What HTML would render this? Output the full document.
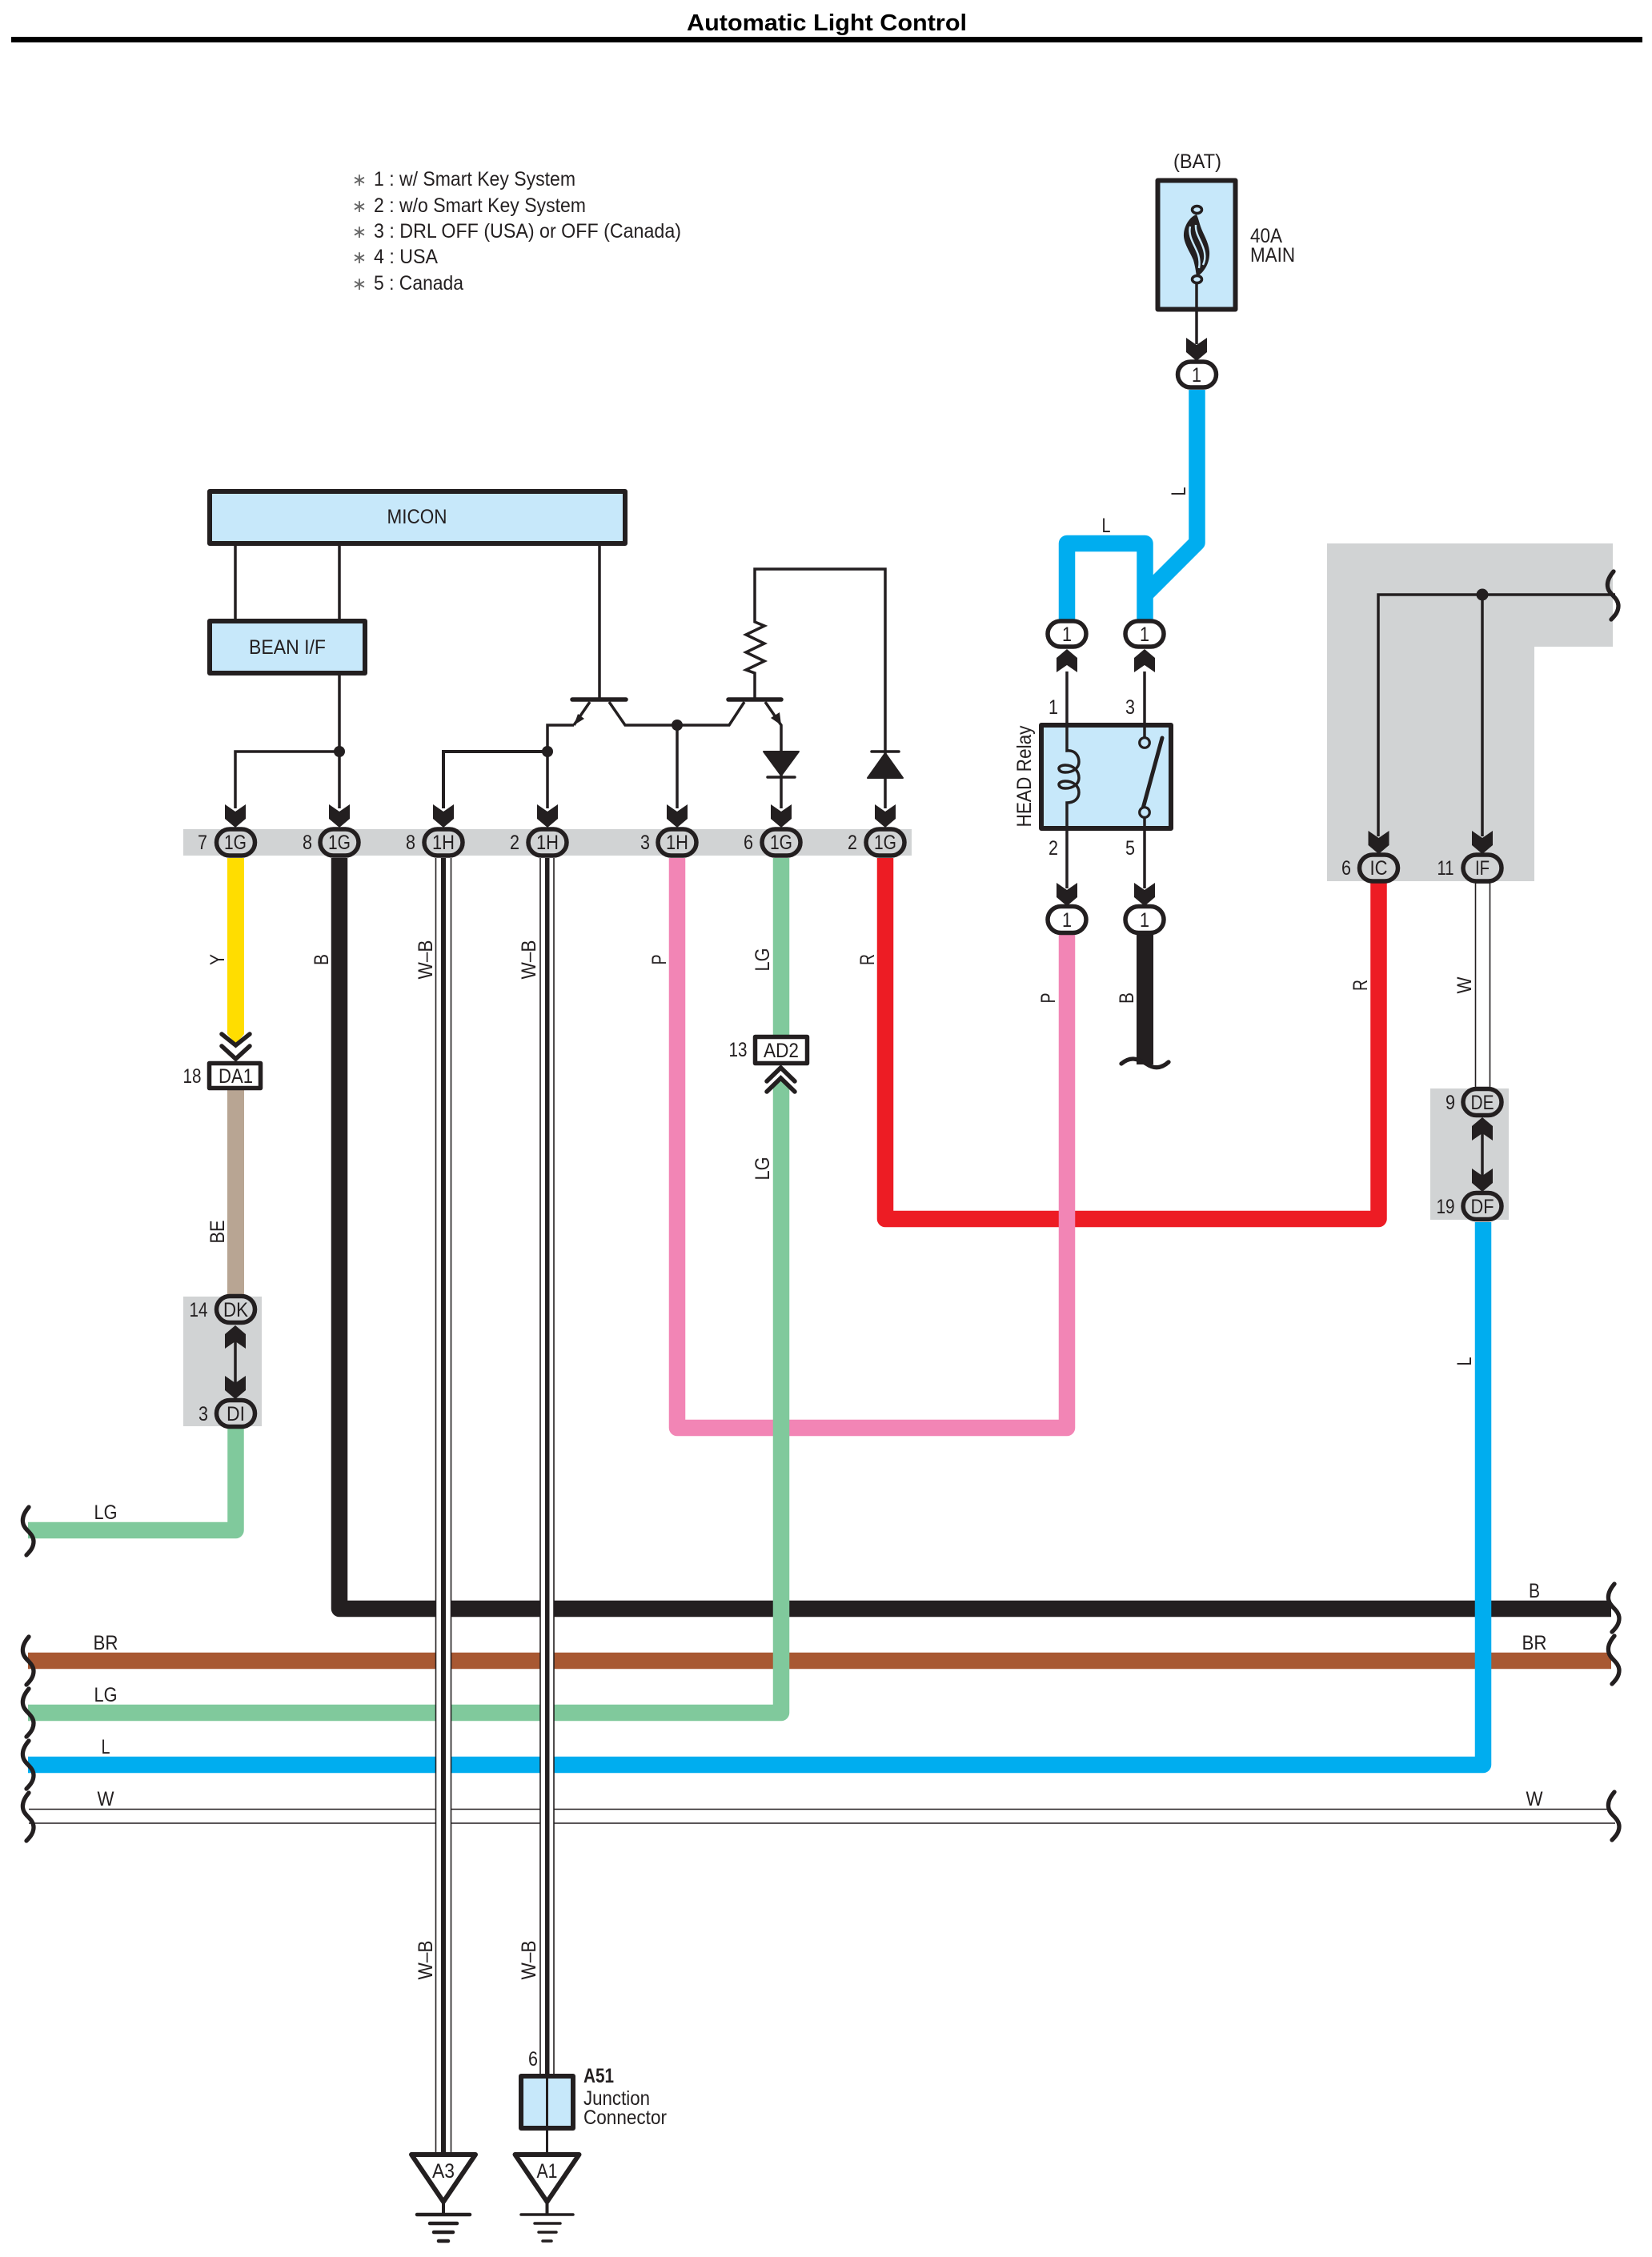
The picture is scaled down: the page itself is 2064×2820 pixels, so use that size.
<!DOCTYPE html>
<html><head><meta charset="utf-8"><title>Automatic Light Control</title>
<style>
html,body{margin:0;padding:0;background:#fff}
svg{display:block}
text{font-family:"Liberation Sans",Arial,sans-serif;font-size:25px;fill:#231f20;text-anchor:middle}
.c{font-size:25px}
.s{text-anchor:start}
.ln{fill:none;stroke:#231f20;stroke-width:3.5}
.w{fill:none;stroke-width:20.5;stroke-linejoin:round}
.box{fill:#c7e8fa;stroke:#231f20;stroke-width:6;stroke-linejoin:round}
.pg{fill:#d1d3d4;stroke:#231f20;stroke-width:5.5}
.pw{fill:#fff;stroke:#231f20;stroke-width:5.5}
.sq{fill:none;stroke:#231f20;stroke-width:5.3;stroke-linecap:round}
.hb{stroke:#231f20;stroke-linecap:round;fill:none}
</style></head><body>
<svg xmlns="http://www.w3.org/2000/svg" width="2064" height="2820" viewBox="0 0 2064 2820">
<defs>
<polygon id="ad" points="-13,-29 0,-20 13,-29 13,-11 0,0 -13,-11" fill="#231f20"/>
<polygon id="au" points="-13,29 0,20 13,29 13,11 0,0 -13,11" fill="#231f20"/>
<path id="sq" class="sq" d="M0 0 C-6 7 -9 14 -7 21 C-5 29 6 33 6 43 C6 50 2 55 -3 60"/>
</defs>
<rect width="2064" height="2820" fill="#fff"/>

<!-- title -->
<text x="858" y="38" class="s" style="font-size:29px;font-weight:bold;fill:#000" textLength="350" lengthAdjust="spacingAndGlyphs">Automatic Light Control</text>
<rect x="14" y="46" width="2038" height="7" fill="#000"/>

<!-- legend -->
<g>
<text x="449" y="232" style="font-size:22px;fill:#666">∗</text>
<text x="449" y="265" style="font-size:22px;fill:#666">∗</text>
<text x="449" y="297" style="font-size:22px;fill:#666">∗</text>
<text x="449" y="329" style="font-size:22px;fill:#666">∗</text>
<text x="449" y="362" style="font-size:22px;fill:#666">∗</text>
<text x="467" y="232" class="s" style="font-size:25px" textLength="252" lengthAdjust="spacingAndGlyphs">1 : w/ Smart Key System</text>
<text x="467" y="265" class="s" style="font-size:25px" textLength="265" lengthAdjust="spacingAndGlyphs">2 : w/o Smart Key System</text>
<text x="467" y="297" class="s" style="font-size:25px" textLength="384" lengthAdjust="spacingAndGlyphs">3 : DRL OFF (USA) or OFF (Canada)</text>
<text x="467" y="329" class="s" style="font-size:25px" textLength="80" lengthAdjust="spacingAndGlyphs">4 : USA</text>
<text x="467" y="362" class="s" style="font-size:25px" textLength="112" lengthAdjust="spacingAndGlyphs">5 : Canada</text>
</g>

<!-- gray backgrounds -->
<g fill="#d1d3d4">
<rect x="229" y="1036" width="910" height="33"/>
<rect x="229" y="1620" width="98" height="162"/>
<rect x="1787" y="1360" width="98" height="164"/>
<polygon points="1658,679 2015,679 2015,808 1917,808 1917,1101 1658,1101"/>
</g>

<!-- thick wires -->
<path class="w" stroke="#ed1c24" d="M1106 1072V1523H1722.5V1103"/>
<path class="w" stroke="#f285b5" d="M846 1072V1784H1333V1168"/>
<path class="w" stroke="#231f20" d="M424 1072V2010H2013"/>
<path class="w" stroke="#a85832" d="M35 2075H2013"/>
<path class="w" stroke="#80c99c" d="M976 1072V2140H35"/>
<polygon points="965,1331 987,1331 987,1358 975.5,1347 965,1358" fill="#fff"/>
<path class="w" stroke="#80c99c" d="M294.5 1785V1912H35"/>
<path class="w" stroke="#00adef" d="M1853 1527V2205H35"/>
<path class="w" stroke="#00adef" d="M1495.5 487V678L1430.5 743"/>
<path class="w" stroke="#00adef" d="M1333 774V679H1430.5V774"/>
<path stroke="#231f20" stroke-width="21" fill="none" d="M1430.5 1168V1330"/>
<polygon points="284,1072 305,1072 305,1292 294.5,1305 284,1292" fill="#ffdd00"/>
<rect x="284" y="1362" width="21" height="260" fill="#b8a593"/>

<!-- W wires -->
<g stroke="#231f20" stroke-width="1.6" fill="none">
<path d="M36 2260.5H2012M36 2278H2018"/>
<rect x="1843.5" y="1103" width="18" height="256" fill="#fff"/>
</g>

<!-- W-B wires -->
<rect x="544" y="1072" width="20" height="1620" fill="#fff"/>
<rect x="674.5" y="1072" width="18" height="1520" fill="#fff"/>
<g stroke="#231f20" stroke-width="1.6" fill="none">
<path d="M544.5 1072V2692M563.5 1072V2692M675 1072V2592M692 1072V2592"/>
</g>
<rect x="551" y="1072" width="6" height="1620" fill="#231f20"/>
<rect x="681" y="1072" width="5.5" height="1520" fill="#231f20"/>

<!-- thin circuit lines -->
<g class="ln">
<path d="M294 682V773M424 682V773M424 844V1010M294 1010V939H424"/>
<path d="M554 1010V939H684" stroke-width="4"/>
<path d="M684 1010V906H717"/>
<path d="M749 682V874"/>
<path d="M737 877L717 906M761 877L781 906H911L930 877M846 906V1010"/>
<path d="M956 877L976 906V1010"/>
<path d="M943 874V841L932 837L955 826L932 815L955 804L932 793L955 782L943 777V711H1106V1010"/>
<path d="M1333 839V903M1333 1038V1110"/>
<path d="M1430 839V903M1430 1038V1110"/>
<path d="M1495 349V430"/>
<path d="M1722 1045V743H2018M1852 743V1045"/>
<path d="M294 1665V1730M1852 1405V1470"/>
<path d="M554 2692V2767M683.5 2692V2767"/>
</g>

<!-- dots -->
<g fill="#231f20">
<circle cx="424" cy="939" r="7"/><circle cx="684" cy="939" r="7"/><circle cx="846" cy="906" r="7"/><circle cx="1852" cy="743" r="7.5"/>
</g>

<!-- transistors -->
<g class="hb" stroke-width="5.5"><path d="M715 874H782M910 874H976"/></g>
<polygon points="717,906 722,892 730,898" fill="#231f20"/>
<polygon points="976,906 963,897 974,890" fill="#231f20"/>

<!-- diodes -->
<g fill="#231f20" stroke="#231f20" stroke-linejoin="round" stroke-width="2">
<polygon points="954,939 998,939 976,969"/>
<polygon points="1084,972 1128,972 1106,941"/>
</g>
<g class="hb" stroke-width="3.5"><path d="M959 971H993M1089 939H1123"/></g>

<!-- boxes -->
<rect class="box" x="262" y="614" width="519" height="65"/>
<rect class="box" x="262" y="776" width="194" height="65"/>
<text x="521" y="654" textLength="75" lengthAdjust="spacingAndGlyphs">MICON</text>
<text x="359" y="817" textLength="96" lengthAdjust="spacingAndGlyphs">BEAN I/F</text>

<!-- fuse -->
<rect class="box" x="1446.5" y="225.5" width="97" height="161"/>
<path d="M1495 268C1488 270 1480 280 1479 292C1478 303 1487 315 1491 325C1493 332 1494 338 1495 346C1505 340 1512 328 1511 314C1510 302 1503 292 1500 283C1498 277 1497 272 1495 268Z" fill="#231f20"/>
<path d="M1487 283C1484 296 1493 306 1497 318C1499 325 1499 330 1498 335M1494 281C1493 293 1503 303 1505 316C1506 322 1505 327 1503 331" fill="none" stroke="#c7e8fa" stroke-width="2.4"/>
<path d="M1495 349V388" stroke="#231f20" stroke-width="3.5"/>
<ellipse cx="1495.5" cy="262" rx="6" ry="4.5" fill="#c7e8fa" stroke="#231f20" stroke-width="3.5"/>
<ellipse cx="1495.5" cy="349" rx="6" ry="4.5" fill="#c7e8fa" stroke="#231f20" stroke-width="3.5"/>
<text x="1496" y="210" textLength="60" lengthAdjust="spacingAndGlyphs">(BAT)</text>
<text x="1562" y="303" class="s" textLength="40" lengthAdjust="spacingAndGlyphs">40A</text>
<text x="1562" y="327" class="s" textLength="56" lengthAdjust="spacingAndGlyphs">MAIN</text>

<!-- relay -->
<rect class="box" x="1301" y="906" width="162" height="129"/>
<g class="ln" stroke-width="3.5">
<path d="M1333 903V938C1343 937 1348 944 1348 952C1348 960 1340 965 1331 965C1326 965 1323 963 1323 960C1323 958 1326 956 1331 956C1341 956 1348 963 1348 972C1348 980 1340 985 1331 985C1326 985 1323 983 1323 980C1323 978 1326 976 1331 976C1341 976 1348 982 1348 990C1348 998 1342 1003 1333 1003V1038"/>
<path d="M1430 903V922M1430 1021V1038"/>
</g>
<path d="M1452 922L1428 1010" stroke="#231f20" stroke-width="5" stroke-linecap="round"/>
<circle cx="1430" cy="928" r="6.3" fill="#c7e8fa" stroke="#231f20" stroke-width="3.2"/>
<circle cx="1430" cy="1015" r="6.3" fill="#c7e8fa" stroke="#231f20" stroke-width="3.2"/>
<text transform="translate(1288,970) rotate(-90)" textLength="127" lengthAdjust="spacingAndGlyphs">HEAD Relay</text>
<path class="sq" d="M1401 1329C1412 1320 1420 1322 1432 1329C1442 1336 1451 1335 1460 1327"/>

<!-- arrows -->
<use href="#ad" x="294" y="1034"/><use href="#ad" x="424" y="1034"/><use href="#ad" x="554" y="1034"/><use href="#ad" x="684" y="1034"/>
<use href="#ad" x="846" y="1034"/><use href="#ad" x="976" y="1034"/><use href="#ad" x="1106" y="1034"/>
<use href="#ad" x="1495" y="451"/>
<use href="#au" x="1333" y="811"/><use href="#au" x="1430" y="811"/>
<use href="#ad" x="1333" y="1132"/><use href="#ad" x="1430" y="1132"/>
<use href="#ad" x="1722.5" y="1067"/><use href="#ad" x="1852" y="1067"/>
<use href="#au" x="294" y="1656"/><use href="#ad" x="294" y="1748"/>
<use href="#au" x="1852" y="1396"/><use href="#ad" x="1852" y="1489"/>

<!-- chevrons -->
<g fill="none" stroke="#231f20" stroke-width="5.5" stroke-linecap="round">
<polyline points="277,1292 294.5,1306 312,1292"/>
<polyline points="277,1307 294.5,1323 312,1307"/>
<polyline points="958,1351 975.5,1334 993,1351"/>
<polyline points="958,1364 975.5,1347 993,1364"/>
</g>

<!-- pill connectors -->
<rect class="pg" x="270.5" y="1036" width="48" height="33" rx="16.5"/>
<rect class="pg" x="400" y="1036" width="48" height="33" rx="16.5"/>
<rect class="pg" x="530" y="1036" width="48" height="33" rx="16.5"/>
<rect class="pg" x="660" y="1036" width="48" height="33" rx="16.5"/>
<rect class="pg" x="822" y="1036" width="48" height="33" rx="16.5"/>
<rect class="pg" x="952" y="1036" width="48" height="33" rx="16.5"/>
<rect class="pg" x="1082" y="1036" width="48" height="33" rx="16.5"/>
<rect class="pg" x="270.5" y="1619.5" width="48" height="33" rx="16.5"/>
<rect class="pg" x="270.5" y="1749.5" width="48" height="33" rx="16.5"/>
<rect class="pg" x="1828" y="1360.5" width="48" height="33" rx="16.5"/>
<rect class="pg" x="1828" y="1490.5" width="48" height="33" rx="16.5"/>
<rect class="pg" x="1698.5" y="1068" width="48" height="33" rx="16.5"/>
<rect class="pg" x="1828" y="1068" width="48" height="33" rx="16.5"/>
<rect class="pw" x="1471.5" y="452" width="48" height="32" rx="16"/>
<rect class="pw" x="1309" y="776" width="48" height="32" rx="16"/>
<rect class="pw" x="1406" y="776" width="48" height="32" rx="16"/>
<rect class="pw" x="1309" y="1132.5" width="48" height="33" rx="16.5"/>
<rect class="pw" x="1406" y="1132.5" width="48" height="33" rx="16.5"/>

<!-- rect connectors -->
<rect x="261.5" y="1328.5" width="64" height="31" fill="#fff" stroke="#231f20" stroke-width="5.5" stroke-linejoin="round"/>
<rect x="943.5" y="1295.5" width="65" height="33" fill="#fff" stroke="#231f20" stroke-width="5.5" stroke-linejoin="round"/>

<!-- connector labels -->
<g>
<text class="c" x="294" y="1061" textLength="28" lengthAdjust="spacingAndGlyphs">1G</text>
<text class="c" x="424" y="1061" textLength="28" lengthAdjust="spacingAndGlyphs">1G</text>
<text class="c" x="554" y="1061" textLength="28" lengthAdjust="spacingAndGlyphs">1H</text>
<text class="c" x="684" y="1061" textLength="28" lengthAdjust="spacingAndGlyphs">1H</text>
<text class="c" x="846" y="1061" textLength="28" lengthAdjust="spacingAndGlyphs">1H</text>
<text class="c" x="976" y="1061" textLength="28" lengthAdjust="spacingAndGlyphs">1G</text>
<text class="c" x="1106" y="1061" textLength="28" lengthAdjust="spacingAndGlyphs">1G</text>
<text class="c" x="1495" y="477" textLength="12" lengthAdjust="spacingAndGlyphs">1</text>
<text class="c" x="1333" y="801" textLength="12" lengthAdjust="spacingAndGlyphs">1</text>
<text class="c" x="1430" y="801" textLength="12" lengthAdjust="spacingAndGlyphs">1</text>
<text class="c" x="1333" y="1158" textLength="12" lengthAdjust="spacingAndGlyphs">1</text>
<text class="c" x="1430" y="1158" textLength="12" lengthAdjust="spacingAndGlyphs">1</text>
<text class="c" x="1722.5" y="1093" textLength="22" lengthAdjust="spacingAndGlyphs">IC</text>
<text class="c" x="1852" y="1093" textLength="18" lengthAdjust="spacingAndGlyphs">IF</text>
<text class="c" x="294.5" y="1353" textLength="43" lengthAdjust="spacingAndGlyphs">DA1</text>
<text class="c" x="976" y="1321" textLength="44" lengthAdjust="spacingAndGlyphs">AD2</text>
<text class="c" x="294.5" y="1645" textLength="31" lengthAdjust="spacingAndGlyphs">DK</text>
<text class="c" x="294.5" y="1775" textLength="23" lengthAdjust="spacingAndGlyphs">DI</text>
<text class="c" x="1852" y="1386" textLength="29" lengthAdjust="spacingAndGlyphs">DE</text>
<text class="c" x="1852" y="1516" textLength="29" lengthAdjust="spacingAndGlyphs">DF</text>
<!-- pin numbers -->
<text class="c" x="253" y="1061" textLength="12" lengthAdjust="spacingAndGlyphs">7</text>
<text class="c" x="384" y="1061" textLength="12" lengthAdjust="spacingAndGlyphs">8</text>
<text class="c" x="513" y="1061" textLength="12" lengthAdjust="spacingAndGlyphs">8</text>
<text class="c" x="643" y="1061" textLength="12" lengthAdjust="spacingAndGlyphs">2</text>
<text class="c" x="806" y="1061" textLength="12" lengthAdjust="spacingAndGlyphs">3</text>
<text class="c" x="935" y="1061" textLength="12" lengthAdjust="spacingAndGlyphs">6</text>
<text class="c" x="1065" y="1061" textLength="12" lengthAdjust="spacingAndGlyphs">2</text>
<text class="c" x="1316" y="892" textLength="12" lengthAdjust="spacingAndGlyphs">1</text>
<text class="c" x="1412" y="892" textLength="12" lengthAdjust="spacingAndGlyphs">3</text>
<text class="c" x="1316" y="1068" textLength="12" lengthAdjust="spacingAndGlyphs">2</text>
<text class="c" x="1412" y="1068" textLength="12" lengthAdjust="spacingAndGlyphs">5</text>
<text class="c" x="1682" y="1093" textLength="12" lengthAdjust="spacingAndGlyphs">6</text>
<text class="c" x="1806" y="1093" textLength="21" lengthAdjust="spacingAndGlyphs">11</text>
<text class="c" x="240" y="1353" textLength="23" lengthAdjust="spacingAndGlyphs">18</text>
<text class="c" x="922" y="1320" textLength="23" lengthAdjust="spacingAndGlyphs">13</text>
<text class="c" x="248" y="1645" textLength="23" lengthAdjust="spacingAndGlyphs">14</text>
<text class="c" x="254" y="1775" textLength="12" lengthAdjust="spacingAndGlyphs">3</text>
<text class="c" x="1812" y="1386" textLength="12" lengthAdjust="spacingAndGlyphs">9</text>
<text class="c" x="1806" y="1516" textLength="23" lengthAdjust="spacingAndGlyphs">19</text>
<text class="c" x="666" y="2581" textLength="12" lengthAdjust="spacingAndGlyphs">6</text>
</g>

<!-- rotated wire labels -->
<text transform="translate(280,1199) rotate(-90)" textLength="14" lengthAdjust="spacingAndGlyphs">Y</text>
<text transform="translate(410,1199) rotate(-90)" textLength="14" lengthAdjust="spacingAndGlyphs">B</text>
<text transform="translate(540,1199) rotate(-90)" textLength="49" lengthAdjust="spacingAndGlyphs">W–B</text>
<text transform="translate(669,1199) rotate(-90)" textLength="49" lengthAdjust="spacingAndGlyphs">W–B</text>
<text transform="translate(832,1199) rotate(-90)" textLength="13" lengthAdjust="spacingAndGlyphs">P</text>
<text transform="translate(961,1199) rotate(-90)" textLength="29" lengthAdjust="spacingAndGlyphs">LG</text>
<text transform="translate(961,1460) rotate(-90)" textLength="29" lengthAdjust="spacingAndGlyphs">LG</text>
<text transform="translate(1092,1199) rotate(-90)" textLength="14" lengthAdjust="spacingAndGlyphs">R</text>
<text transform="translate(280,1539) rotate(-90)" textLength="29" lengthAdjust="spacingAndGlyphs">BE</text>
<text transform="translate(1481,614) rotate(-90)" textLength="11" lengthAdjust="spacingAndGlyphs">L</text>
<text transform="translate(1318,1247) rotate(-90)" textLength="13" lengthAdjust="spacingAndGlyphs">P</text>
<text transform="translate(1416,1247) rotate(-90)" textLength="14" lengthAdjust="spacingAndGlyphs">B</text>
<text transform="translate(1708,1231) rotate(-90)" textLength="14" lengthAdjust="spacingAndGlyphs">R</text>
<text transform="translate(1838,1231) rotate(-90)" textLength="21" lengthAdjust="spacingAndGlyphs">W</text>
<text transform="translate(1838,1701) rotate(-90)" textLength="11" lengthAdjust="spacingAndGlyphs">L</text>
<text transform="translate(540,2449) rotate(-90)" textLength="49" lengthAdjust="spacingAndGlyphs">W–B</text>
<text transform="translate(669,2449) rotate(-90)" textLength="49" lengthAdjust="spacingAndGlyphs">W–B</text>

<!-- horizontal wire labels -->
<text x="1382" y="665" textLength="11" lengthAdjust="spacingAndGlyphs">L</text>
<text x="132" y="1898" textLength="29" lengthAdjust="spacingAndGlyphs">LG</text>
<text x="132" y="2061" textLength="31" lengthAdjust="spacingAndGlyphs">BR</text>
<text x="132" y="2126" textLength="29" lengthAdjust="spacingAndGlyphs">LG</text>
<text x="132" y="2191" textLength="11" lengthAdjust="spacingAndGlyphs">L</text>
<text x="132" y="2256" textLength="21" lengthAdjust="spacingAndGlyphs">W</text>
<text x="1917" y="1996" textLength="14" lengthAdjust="spacingAndGlyphs">B</text>
<text x="1917" y="2061" textLength="31" lengthAdjust="spacingAndGlyphs">BR</text>
<text x="1917" y="2256" textLength="21" lengthAdjust="spacingAndGlyphs">W</text>

<!-- squiggles -->
<use href="#sq" x="36" y="1883"/>
<use href="#sq" x="36" y="2045"/>
<use href="#sq" x="36" y="2110"/>
<use href="#sq" x="36" y="2175"/>
<use href="#sq" x="36" y="2240"/>
<use href="#sq" x="2017" y="1979"/>
<use href="#sq" x="2017" y="2044"/>
<use href="#sq" x="2017" y="2239"/>
<use href="#sq" x="2016" y="714"/>

<!-- junction connector A51 -->
<rect class="box" x="651" y="2594" width="65" height="65"/>
<path d="M683.5 2594V2692" stroke="#231f20" stroke-width="3"/>
<text x="729" y="2602" class="s" style="font-weight:bold" textLength="38" lengthAdjust="spacingAndGlyphs">A51</text>
<text x="729" y="2630" class="s" textLength="83" lengthAdjust="spacingAndGlyphs">Junction</text>
<text x="729" y="2654" class="s" textLength="104" lengthAdjust="spacingAndGlyphs">Connector</text>

<!-- grounds -->
<polygon points="514,2692 594,2692 554,2751" fill="#fff" stroke="#231f20" stroke-width="6" stroke-linejoin="round"/>
<polygon points="643.5,2692 723.5,2692 683.5,2751" fill="#fff" stroke="#231f20" stroke-width="6" stroke-linejoin="round"/>
<path d="M554 2751V2767M683.5 2751V2767" stroke="#231f20" stroke-width="4"/>
<text class="c" x="554" y="2721" textLength="28" lengthAdjust="spacingAndGlyphs">A3</text>
<text class="c" x="683.5" y="2721" textLength="26" lengthAdjust="spacingAndGlyphs">A1</text>
<g class="hb" stroke-width="4.5">
<path d="M521 2767H587M537 2778H571M542 2789H566M548 2800H560"/>
</g>
<g class="hb" stroke-width="3.5">
<path d="M651 2767H716M668 2778H700M673 2789H695M678 2800H689"/>
</g>
</svg>
</body></html>
